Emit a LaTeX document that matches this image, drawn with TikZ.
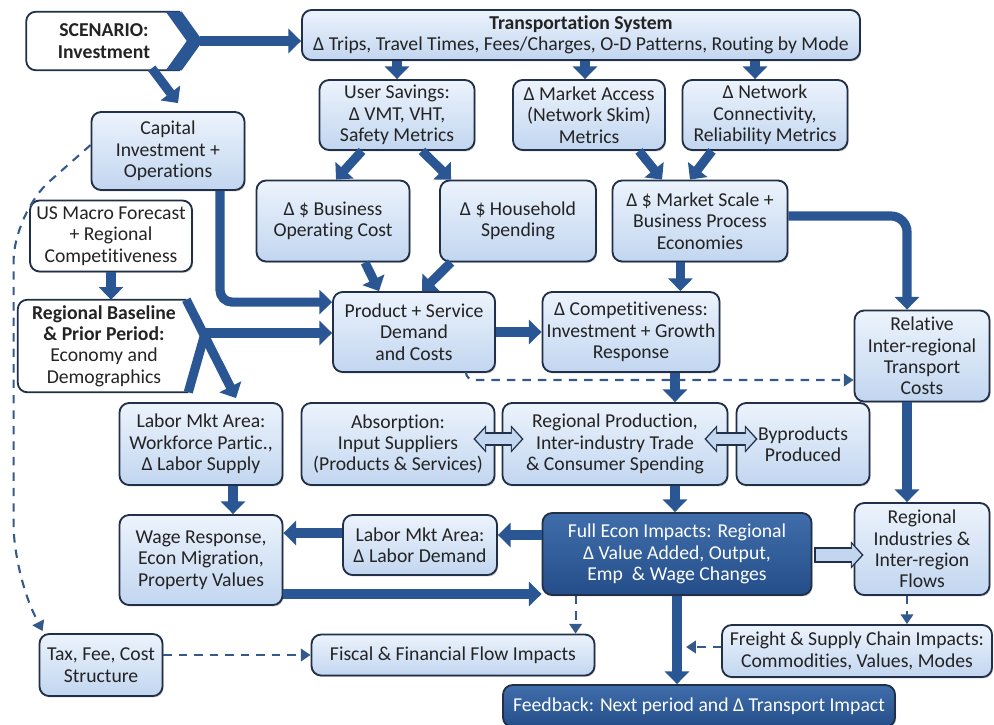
\documentclass[tikz,border=0pt]{standalone}
\usepackage{fontspec}
\setmainfont{Carlito}[Ligatures={NoCommon,NoContextual}]
\usetikzlibrary{positioning,calc,arrows.meta,shadows}
\definecolor{arrowblue}{RGB}{42,87,148}
\definecolor{boxline}{RGB}{33,48,72}
\definecolor{boxtop}{RGB}{236,243,252}
\definecolor{boxbot}{RGB}{194,214,240}
\definecolor{darktop}{RGB}{64,110,170}
\definecolor{darkbot}{RGB}{36,78,138}
\definecolor{dashblue}{RGB}{52,90,140}
\definecolor{textgray}{RGB}{35,35,35}

\begin{document}
\begin{tikzpicture}[x=0.25mm,y=-0.25mm,
  every node/.style={font=\fontsize{14}{15.2}\selectfont, text=textgray},
  nbox/.style={draw=boxline, line width=1.3pt, rounded corners=2.4mm, align=center, inner sep=1pt,
    top color=boxtop, bottom color=boxbot, drop shadow={shadow xshift=0.8pt, shadow yshift=-1pt, opacity=0.4}},
  wbox/.style={nbox, top color=white, bottom color=white},
  dbox/.style={nbox, top color=darktop, bottom color=darkbot, text=white},
  wfill/.style={fill=white, align=center, inner sep=1pt},
  bline/.style={draw=boxline, line width=1.3pt, rounded corners=2.4mm},
  sz/.style 2 args={minimum width=#1*0.25mm, minimum height=#2*0.25mm},
  bigarrow/.style={draw=arrowblue, line width=6.5pt, >={Triangle[width=17pt,length=9pt]}, ->},
  dasharrow/.style={draw=dashblue, line width=1.5pt, dash pattern=on 6pt off 5pt, >={Triangle[width=9pt,length=7pt]}, ->},
  fatout/.style={draw=boxline, line width=9.5pt, >={Triangle[width=19pt,length=9pt]}},
  fatin/.style={draw=boxbot, line width=6.5pt, shorten <=1.4pt, shorten >=1.4pt, >={Triangle[width=15pt,length=7pt]}}]
\useasboundingbox (0,0) rectangle (994,724);

\node [wfill, sz={155}{58}, font=\fontsize{14}{15.6}\selectfont\bfseries] (scen) at (104,41) {SCENARIO:\\Investment};
\node [nbox, sz={558}{50}] (trans) at (581,35) {\textbf{Transportation System}\\Δ Trips, Travel Times, Fees/Charges, O-D Patterns, Routing by Mode};
\node [nbox, sz={155}{70}] (usersav) at (397,115) {User Savings:\\Δ VMT, VHT,\\Safety Metrics};
\node [nbox, sz={152}{70}] (mktacc) at (589,115) {Δ Market Access\\(Network Skim)\\Metrics};
\node [nbox, sz={165}{70}] (netconn) at (765,115) {Δ Network\\Connectivity,\\Reliability Metrics};
\node [nbox, sz={153}{78}] (capinv) at (168,151) {Capital\\Investment +\\Operations};
\node [nbox, sz={153}{81}] (busop) at (333,221) {Δ \$ Business\\Operating Cost};
\node [nbox, sz={156}{81}] (hhspend) at (518,221) {Δ \$ Household\\Spending};
\node [nbox, sz={175}{81}] (mktscale) at (700,221) {Δ \$ Market Scale +\\Business Process\\Economies};
\node [wbox, sz={162}{71}] (usmacro) at (111,236) {US Macro Forecast\\+ Regional\\Competitiveness};
\node [wfill, sz={172}{92}] (baseline) at (104,346) {\textbf{Regional Baseline}\\\textbf{\& Prior Period:}\\Economy and\\Demographics};
\node [nbox, sz={162}{80}] (prodsvc) at (414,332) {Product + Service\\Demand\\and Costs};
\node [nbox, sz={177}{80}] (compet) at (631,332) {Δ Competitiveness:\\Investment + Growth\\Response};
\node [nbox, sz={135}{91}] (reltrans) at (922,356) {Relative\\Inter-regional\\Transport\\Costs};
\node [nbox, sz={163}{82}] (laborsup) at (201,444) {Labor Mkt Area:\\Workforce Partic.,\\Δ Labor Supply};
\node [nbox, sz={193}{82}] (absorb) at (398,444) {Absorption:\\Input Suppliers\\(Products \& Services)};
\node [nbox, sz={225}{82}] (regprod) at (615,444) {Regional Production,\\Inter-industry Trade\\\& Consumer Spending};
\node [nbox, sz={133}{82}] (byprod) at (803,444) {Byproducts\\Produced};
\node [nbox, sz={163}{90}] (wage) at (201,560) {Wage Response,\\Econ Migration,\\Property Values};
\node [nbox, sz={154}{60}] (labordem) at (420,545) {Labor Mkt Area:\\Δ Labor Demand};
\node [dbox, sz={269}{82}] (fullecon) at (677,554) {Full Econ Impacts: Regional\\Δ Value Added, Output,\\Emp~ \& Wage Changes};
\node [nbox, sz={135}{92}] (regind) at (922,549) {Regional\\Industries \&\\Inter-region\\Flows};
\node [nbox, sz={123}{62}] (tax) at (101,665) {Tax, Fee, Cost\\Structure};
\node [nbox, sz={283}{41}] (fiscal) at (453,655) {Fiscal \& Financial Flow Impacts};
\node [nbox, sz={270}{52}] (freight) at (857,651) {Freight \& Supply Chain Impacts:\\Commodities, Values, Modes};
\node [dbox, sz={392}{42}] (feedback) at (699,706) {Feedback: Next period and Δ Transport Impact};

\draw [bline] ($(scen.north east)+(-2,0)$) -- (scen.north west) -- (scen.south west) -- ($(scen.south east)+(-2,0)$);
\fill [arrowblue] ($(scen.north east)+(-16,0)$) -- ($(scen.north east)+(0,0)$) -- ($(scen.east)+(21,0)$) -- ($(scen.south east)+(0,0)$) -- ($(scen.south east)+(-16,0)$) -- ($(scen.east)+(5,0)$) -- cycle;
\draw [bline] ($(baseline.north east)+(-4,0)$) -- (baseline.north west) -- (baseline.south west) -- ($(baseline.south east)+(-2,0)$);
\draw [arrowblue, line width=6.5pt] ($(baseline.east)+(14,-10)$) -- ($(baseline.south east)+(-2,0)$);
\draw [bigarrow] ($(baseline.north east)+(-4,0)$) -- ($(laborsup.north)+(35,-4)$);
\draw [bigarrow] ($(baseline.east)+(10,-13)$) coordinate (a4) -- (a4 -| prodsvc.west);

\draw [bigarrow] ($(scen.east)+(18,0)$) coordinate (a0) -- (a0 -| trans.west);
\draw [bigarrow] ($(scen.south east)+(-30,-2)$) -- ($(capinv.north)+(10,-8)$);
\draw [bigarrow] (trans.south -| usersav) -- (usersav);
\draw [bigarrow] ($(trans.south -| mktacc)+(-4,0)$) coordinate (a1) -- (a1 |- mktacc.north);
\draw [bigarrow] ($(trans.south -| netconn)+(-10,0)$) coordinate (a2) -- (a2 |- netconn.north);
\draw [bigarrow] ($(usersav.south)+(-35,0)$) -- ($(busop.north)+(3,0)$);
\draw [bigarrow] ($(usersav.south)+(25,0)$) -- ($(hhspend.north west)+(12,0)$);
\draw [bigarrow] ($(mktacc.south)+(50,0)$) -- ($(mktscale.north)+(-38,0)$);
\draw [bigarrow] ($(netconn.south)+(-53,0)$) -- ($(mktscale.north)+(-10,0)$);
\coordinate (a3) at ($(compet.north east)+(-40,0)$);
\draw [bigarrow] (a3 |- mktscale.south) -- (a3);
\draw [bigarrow, rounded corners=4mm] ($(mktscale.east)+(0,-5)$) -| ($(reltrans.north)+(-15,0)$);
\draw [bigarrow, rounded corners=3mm] ($(capinv.south)+(52,0)$) |- ($(prodsvc.north west)+(0,11)$);
\draw [bigarrow] ($(busop.south)+(32,0)$) -- ($(prodsvc.north)+(-35,0)$);
\draw [bigarrow] ($(hhspend.south west)+(12,0)$) -- ($(prodsvc.north)+(8,0)$);
\draw [bigarrow] (usmacro.south) -- (usmacro.south |- baseline.north);
\draw [bigarrow] (prodsvc.east) -- (compet.west);
\draw [bigarrow] ($(compet.south)+(44,0)$) coordinate (a5) -- (a5 |- regprod.north);
\draw [dasharrow, rounded corners=2mm] ($(prodsvc.south east)+(-30,0)$) |- ($(reltrans.west)+(0,24)$);
\draw [bigarrow] ($(reltrans.south)+(-15,0)$) coordinate (a6) -- (a6 |- regind.north);
\draw [bigarrow] ($(regprod.south)+(60,0)$) coordinate (a7) -- (a7 |- fullecon.north);
\draw [bigarrow] ($(laborsup.south)+(32,0)$) coordinate (a8) -- (a8 |- wage.north);
\draw [bigarrow] ($(labordem.west)+(0,-12)$) coordinate (a9) -- (a9 -| wage.east);
\draw [bigarrow] ($(fullecon.west)+(0,-19)$) coordinate (a10) -- (a10 -| labordem.east);
\draw [bigarrow] ($(wage.east)+(0,34)$) coordinate (a11) -- (a11 -| fullecon.west);
\draw [bigarrow] (fullecon.south) -- (fullecon.south |- feedback.north);
\draw [dasharrow] ($(fullecon.south west)+(34,0)$) coordinate (a12) -- (a12 |- fiscal.north);
\draw [dasharrow] ($(regind.south)+(-15,0)$) coordinate (a13) -- (a13 |- freight.north);
\coordinate (frtip) at ($(freight.west)+(-35,-4)$);
\draw [dasharrow] (freight.west |- frtip) -- (frtip);
\draw [dasharrow, rounded corners=12mm] ($(capinv.west)+(0,-6)$) -- ($(tax.north west)+(-25,-420)$) -- ($(tax.north west)+(-25,-60)$) -- ($(tax.north west)+(4,-2)$);
\draw [dasharrow] (tax.east |- fiscal.west) -- (fiscal.west);

\draw [fatout, <->] ($(absorb.east)+(-22,-5)$) -- ($(regprod.west)+(22,-5)$);
\draw [fatin, <->] ($(absorb.east)+(-22,-5)$) -- ($(regprod.west)+(22,-5)$);
\draw [fatout, <->] ($(regprod.east)+(-24,-5)$) -- ($(byprod.west)+(22,-5)$);
\draw [fatin, <->] ($(regprod.east)+(-24,-5)$) -- ($(byprod.west)+(22,-5)$);
\draw [fatout, ->, line width=11pt] ($(fullecon.east)+(2,1)$) coordinate (a14) -- ($(a14 -| regind.west)+(10,0)$);
\draw [fatin, ->, line width=8pt] ($(fullecon.east)+(2,1)$) -- ($(a14 -| regind.west)+(10,0)$);
\end{tikzpicture}
\end{document}
